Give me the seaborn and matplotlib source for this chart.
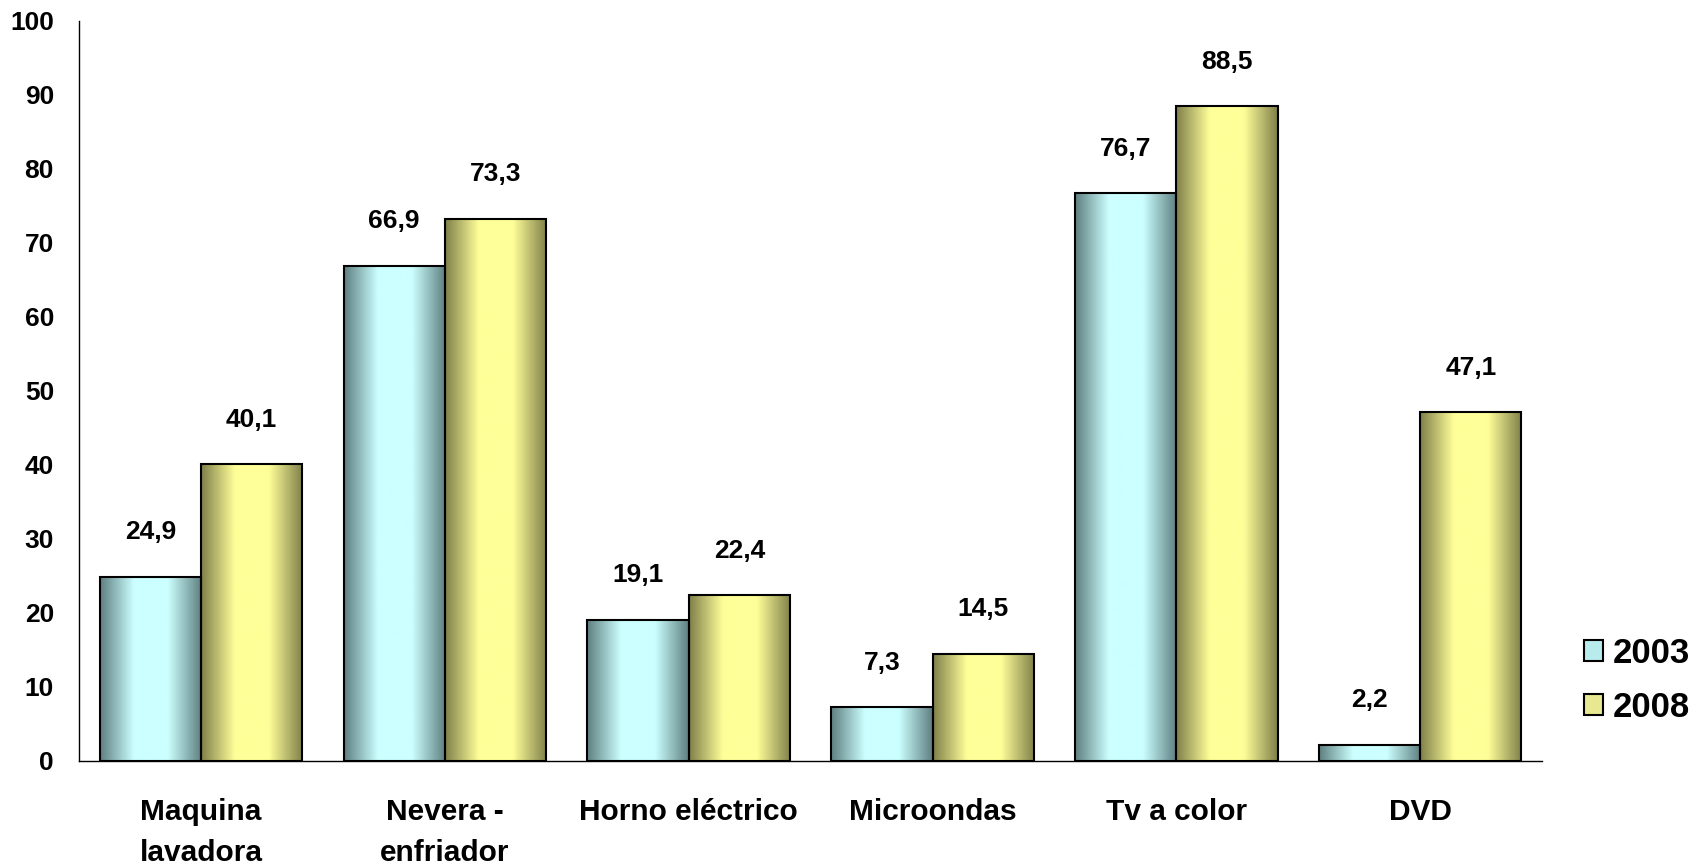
import numpy as np
import pandas as pd
import seaborn as sns
import matplotlib.pyplot as plt
from matplotlib.colors import LinearSegmentedColormap
from matplotlib.patches import Patch

# datos
categorias = ['Maquina\nlavadora', 'Nevera -\nenfriador', 'Horno eléctrico',
              'Microondas', 'Tv a color', 'DVD']
anios = ['2003', '2008']
v2003 = [24.9, 66.9, 19.1, 7.3, 76.7, 2.2]
v2008 = [40.1, 73.3, 22.4, 14.5, 88.5, 47.1]

df = pd.DataFrame({
    'cat': categorias * 2,
    'anio': [anios[0]] * len(categorias) + [anios[1]] * len(categorias),
    'valor': v2003 + v2008,
})

sns.set_style('white')
plt.rcParams['font.family'] = ['Liberation Sans', 'DejaVu Sans']
plt.rcParams['font.weight'] = 'bold'
plt.rcParams['text.color'] = 'black'
plt.rcParams['xtick.color'] = 'black'
plt.rcParams['ytick.color'] = 'black'

fig = plt.figure(figsize=(17.06, 8.67), dpi=100)
ax = fig.add_axes([0.0463, 0.1223, 0.904 - 0.0463, 0.9758 - 0.1223])

claro = {'2003': '#CCFFFF', '2008': '#FFFF99'}
oscuro = {'2003': '#5E7F80', '2008': '#7F7F4A'}
pal = {'2003': '#B8EBEB', '2008': '#E8E890'}

sns.barplot(data=df, x='cat', y='valor', hue='anio', palette=pal,
            width=0.83, gap=0, ax=ax, legend=False, saturation=1)

# degradado horizontal tipo cilindro
for anio, cont in zip(anios, ax.containers):
    cmap = LinearSegmentedColormap.from_list(
        'g' + anio, [oscuro[anio], claro[anio], claro[anio], oscuro[anio]])
    grad = np.linspace(0, 1, 256).reshape(1, -1)
    for bar in cont:
        x0, y0 = bar.get_x(), bar.get_y()
        w, h = bar.get_width(), bar.get_height()
        im = ax.imshow(grad, cmap=cmap, aspect='auto',
                       extent=[x0, x0 + w, y0, y0 + h], zorder=2,
                       interpolation='bicubic')
        im.set_clip_path(bar)
        bar.set_facecolor('none')
        bar.set_edgecolor('black')
        bar.set_linewidth(1.5)
        bar.set_zorder(3)
        ax.annotate(f'{h:.1f}'.replace('.', ','), (x0 + w / 2, y0 + h),
                    xytext=(0, 32), textcoords='offset points',
                    ha='center', va='center', fontsize=19, fontweight='bold')

ax.set_xlim(-0.5, len(categorias) - 0.5)
ax.set_ylim(0, 100)
ax.set_yticks(range(0, 101, 10))
ax.set_xlabel('')
ax.set_ylabel('')
ax.set_xticks(range(len(categorias)))
ax.set_xticklabels(categorias, fontsize=21.5, fontweight='bold', linespacing=1.55)
ax.set_xticks(np.arange(-0.5, len(categorias), 1), minor=True)
ax.tick_params(axis='x', which='major', length=0, pad=27)
ax.tick_params(axis='x', which='minor', length=8, width=1, direction='out', color='black')
ax.tick_params(axis='y', length=8, width=1, direction='out', color='black', pad=10,
               labelsize=19)
for t in ax.get_yticklabels():
    t.set_fontweight('bold')

sns.despine(ax=ax)
for s in ['left', 'bottom']:
    ax.spines[s].set_color('black')
    ax.spines[s].set_linewidth(1)

handles = [Patch(facecolor=pal[a], edgecolor='black', linewidth=1.5, label=a) for a in anios]
fig.legend(handles=handles, loc='center left', bbox_to_anchor=(0.91, 0.215),
           frameon=False, handlelength=0.55, handleheight=0.55,
           handletextpad=0.3, labelspacing=0.6, prop={'weight': 'bold', 'size': 25})

fig.savefig('out.png', dpi=100)
